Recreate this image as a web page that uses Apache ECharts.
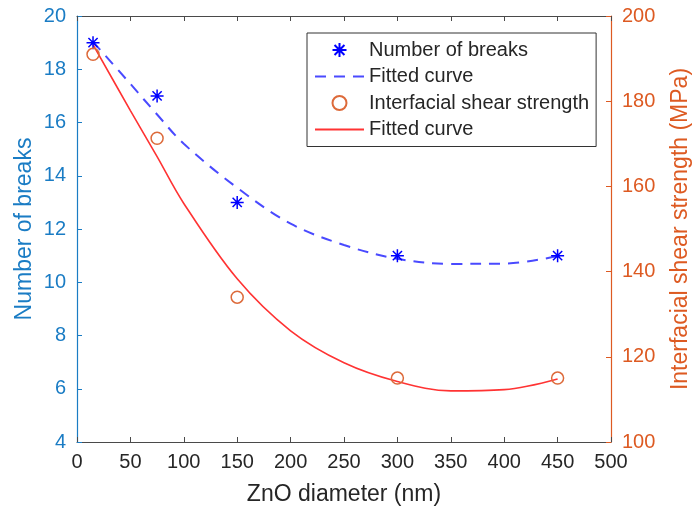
<!DOCTYPE html>
<html>
<head>
<meta charset="utf-8">
<script src="https://cdn.jsdelivr.net/npm/echarts@6/dist/echarts.min.js"></script>
<style>
html,body{margin:0;padding:0;background:#fff;}
#chart{width:693px;height:510px;}
</style>
</head>
<body>
<div id="chart"></div>
<script>
// ---- data ----
var breaksX = [15, 75, 150, 300, 450];
var breaksY = [19, 17, 13, 11, 11];
var issX = [15, 75, 150, 300, 450];
var issY = [191, 171.3, 134, 115, 115];
var fitBreaksX = [15, 50, 75, 100, 150, 200, 250, 300, 350, 400, 450];
var fitBreaksY = [19.03, 17.45, 16.3, 15.2, 13.55, 12.2, 11.4, 10.88, 10.69, 10.7, 10.98];
var fitIssX = [15, 50, 75, 100, 150, 200, 250, 300, 350, 400, 450];
var fitIssY = [193.3, 177.8, 167, 156, 138.3, 126.1, 118.6, 114.2, 112.0, 112.3, 114.8];
var xTicks = {min: 0, max: 500, interval: 50};
var leftTicks = {min: 4, max: 20, interval: 2};
var rightTicks = {min: 100, max: 200, interval: 20};
var labels = {
  x: 'ZnO diameter (nm)',
  yl: 'Number of breaks',
  yr: 'Interfacial shear strength (MPa)',
  s1: 'Number of breaks',
  s2: 'Fitted curve',
  s3: 'Interfacial shear strength',
  s4: 'Fitted curve '
};

function zip(a, b) { return a.map(function (v, i) { return [v, b[i]]; }); }

var FONT = 'Liberation Sans';
var BLUE_AX = '#1a7cc4';
var ORANGE_AX = '#DD5A22';
var GRAY = '#4a4a4a';
var TXT = '#262626';
var CLEAR = 'rgba(0,0,0,0)';
var asterisk = 'path://M0,-10L0,10M-10,0L10,0M-7.07,-7.07L7.07,7.07M-7.07,7.07L7.07,-7.07';

var chart = echarts.init(document.getElementById('chart'), null, {renderer: 'canvas'});
chart.setOption({
  backgroundColor: '#ffffff',
  animation: false,
  textStyle: {fontFamily: FONT},
  grid: {left: 77, right: 82, top: 16, bottom: 68, containLabel: false, outerBoundsMode: 'none'},
  legend: {
    orient: 'vertical',
    left: 307, top: 33,
    padding: [7, 7, 7, 7],
    itemWidth: 49, itemHeight: 14, itemGap: 6.5,
    backgroundColor: '#fff',
    borderColor: '#333', borderWidth: 1,
    textStyle: {fontFamily: FONT, fontSize: 20, lineHeight: 20, color: TXT},
    data: [labels.s1, labels.s2, labels.s3, labels.s4]
  },
  xAxis: [{
    type: 'value', position: 'bottom',
    min: xTicks.min, max: xTicks.max, interval: xTicks.interval,
    name: labels.x, nameLocation: 'middle', nameGap: 41,
    nameTextStyle: {fontFamily: FONT, fontSize: 23, color: TXT},
    axisLine: {show: true, onZero: false, lineStyle: {color: GRAY, width: 1}},
    axisTick: {show: true, inside: true, length: 5, lineStyle: {color: GRAY}},
    axisLabel: {fontFamily: FONT, fontSize: 20, color: TXT, margin: 10},
    splitLine: {show: false}
  }, {
    type: 'value', position: 'top',
    min: xTicks.min, max: xTicks.max, interval: xTicks.interval,
    axisLine: {show: true, onZero: false, lineStyle: {color: GRAY, width: 1}},
    axisTick: {show: true, inside: true, length: 5, lineStyle: {color: GRAY}},
    axisLabel: {show: false},
    splitLine: {show: false}
  }],
  yAxis: [{
    type: 'value', position: 'left',
    min: leftTicks.min, max: leftTicks.max, interval: leftTicks.interval,
    name: labels.yl, nameLocation: 'middle', nameGap: 41, nameRotate: 90,
    nameMoveOverlap: false,
    nameTextStyle: {fontFamily: FONT, fontSize: 23, color: BLUE_AX},
    axisLine: {show: true, onZero: false, lineStyle: {color: BLUE_AX, width: 1.2}},
    axisTick: {show: true, inside: true, length: 5, lineStyle: {color: BLUE_AX}},
    axisLabel: {fontFamily: FONT, fontSize: 20, color: BLUE_AX, margin: 11},
    splitLine: {show: false}
  }, {
    type: 'value', position: 'right',
    min: rightTicks.min, max: rightTicks.max, interval: rightTicks.interval,
    name: labels.yr, nameLocation: 'middle', nameGap: 58, nameRotate: 90,
    nameMoveOverlap: false,
    nameTextStyle: {fontFamily: FONT, fontSize: 23, color: ORANGE_AX},
    axisLine: {show: true, onZero: false, lineStyle: {color: ORANGE_AX, width: 1.2}},
    axisTick: {show: true, inside: true, length: 5, lineStyle: {color: ORANGE_AX}},
    axisLabel: {fontFamily: FONT, fontSize: 20, color: ORANGE_AX, margin: 11},
    splitLine: {show: false}
  }],
  series: [{
    name: labels.s2, type: 'line', xAxisIndex: 0, yAxisIndex: 0,
    data: zip(fitBreaksX, fitBreaksY), smooth: 0.35, symbol: 'none',
    lineStyle: {color: '#4a4aff', width: 2, type: [11, 8]},
    itemStyle: {color: CLEAR, borderColor: CLEAR}, z: 2
  }, {
    name: labels.s4, type: 'line', xAxisIndex: 0, yAxisIndex: 1,
    data: zip(fitIssX, fitIssY), smooth: 0.35, symbol: 'none',
    lineStyle: {color: '#ff3333', width: 1.6, type: 'solid'},
    itemStyle: {color: CLEAR, borderColor: CLEAR}, z: 2
  }, {
    name: labels.s1, type: 'scatter', xAxisIndex: 0, yAxisIndex: 0,
    data: zip(breaksX, breaksY), symbol: asterisk, symbolSize: 13,
    itemStyle: {color: CLEAR, borderColor: '#0000ff', borderWidth: 1.5, opacity: 1}, z: 3
  }, {
    name: labels.s3, type: 'scatter', xAxisIndex: 0, yAxisIndex: 1,
    data: zip(issX, issY), symbol: 'circle', symbolSize: 12,
    itemStyle: {color: CLEAR, borderColor: '#DD6A3A', borderWidth: 1.5, opacity: 1}, z: 3
  }]
});
</script>
</body>
</html>
